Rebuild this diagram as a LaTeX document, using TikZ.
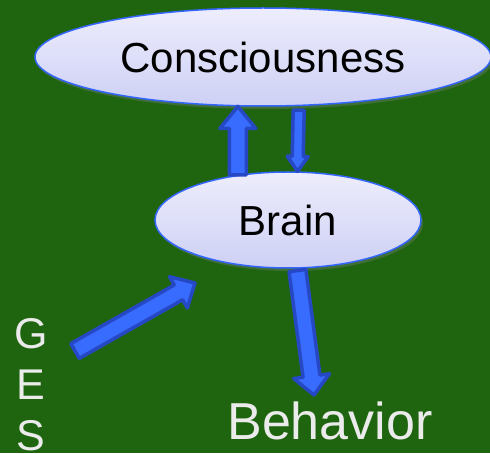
\documentclass[tikz,border=0pt]{standalone}
\usepackage{fontspec}
\setmainfont{Liberation Sans}
\usepackage{tikz}
\usetikzlibrary{positioning}
\usetikzlibrary{calc}
\usetikzlibrary{shapes.geometric}
\usetikzlibrary{shadows}
\definecolor{board}{RGB}{31,101,16}
\definecolor{arrowfill}{RGB}{55,108,255}
\definecolor{arrowedge}{RGB}{38,72,196}
\definecolor{bubbleedge}{RGB}{51,102,255}
\definecolor{bubbletop}{RGB}{237,237,252}
\definecolor{bubblebottom}{RGB}{206,208,245}
\definecolor{chalk}{RGB}{235,235,235}
\tikzset{
    slide diagram/.style={
            x=1pt,y=1pt,
            bubble/.style={ellipse, draw=bubbleedge, line width=1.5pt,
                top color=bubbletop, bottom color=bubblebottom, inner sep=0pt,
                font=\fontsize{42}{50}\selectfont,
                drop shadow={shadow xshift=2pt, shadow yshift=-3pt, opacity=0.35}},
            chalk text/.style={text=chalk, inner sep=0pt},
            blockarrow/.style args={##1/##2/##3}{
                draw=arrowedge, fill=arrowfill, line width=3.5pt, line join=round,
                to path={
                    ($(\tikztostart)!##1!90:(\tikztotarget)$)
                    -- ($($(\tikztotarget)!##3!(\tikztostart)$)!##1!90:(\tikztotarget)$)
                    -- ($($(\tikztotarget)!##3!(\tikztostart)$)!##2!90:(\tikztotarget)$)
                    -- (\tikztotarget)
                    -- ($($(\tikztotarget)!##3!(\tikztostart)$)!##2!-90:(\tikztotarget)$)
                    -- ($($(\tikztotarget)!##3!(\tikztostart)$)!##1!-90:(\tikztotarget)$)
                    -- ($(\tikztostart)!##1!-90:(\tikztotarget)$)
                    -- cycle
                }
            }
        }
    }

\begin{document}
\begin{tikzpicture}[slide diagram]
    \useasboundingbox (0,0) rectangle (490,453);
    \fill[board] (0,0) rectangle (490,453);
    \node[bubble, minimum width=456, minimum height=98] (cons) at (263,396) {Consciousness};
    \node[bubble, minimum width=266, minimum height=96] (brain) at (288,233) {Brain};
    \node[chalk text, font=\fontsize{52}{60}\selectfont] (behav) at (330,32) {Behavior};
    \foreach \letter [count=\i] in {G,E,S}
        \node[chalk text, font=\fontsize{43}{50}\selectfont] (ges\i) at (31,{119-51*(\i-1)}) {\letter};
    \coordinate (gestail) at ($(ges1)+(44,-17)$);
    \coordinate (gestip) at ($(brain)+(-93,-63)$);
    \coordinate (behavtip) at ($(behav)+(-16,26)$);
    \draw [blockarrow=8.5pt/18pt/22pt] (brain.138) to (cons.243);
    \draw [blockarrow=5.5pt/10.5pt/15pt] ($(cons.306)+(0,-4)$) to (brain.79);
    \draw [blockarrow=8.5pt/18pt/19pt] (gestail) to (gestip);
    \draw [blockarrow=8.5pt/18pt/19pt] ($(brain.281)+(0,-2)$) to (behavtip);
\end{tikzpicture}
\end{document}
